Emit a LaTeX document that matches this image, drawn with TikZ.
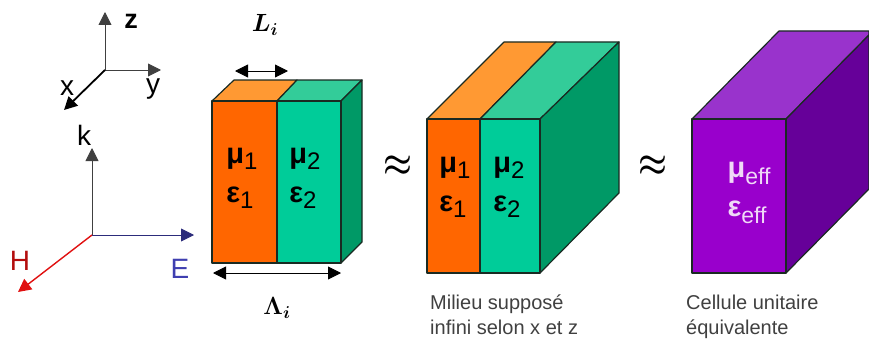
\documentclass[tikz,border=0pt]{standalone}
\usepackage{fontspec}
\setmainfont{Liberation Sans}
\usetikzlibrary{arrows.meta,positioning}
\definecolor{orangeface}{HTML}{FF6600}
\definecolor{orangetop}{HTML}{FF9933}
\definecolor{greenface}{HTML}{00CC99}
\definecolor{greentop}{HTML}{33CC99}
\definecolor{greenside}{HTML}{009966}
\definecolor{purpleface}{HTML}{9900CC}
\definecolor{purpletop}{HTML}{9933CC}
\definecolor{purpleside}{HTML}{660099}
\definecolor{outline}{HTML}{1A2A22}
\definecolor{efield}{HTML}{3F3FB0}
\definecolor{hfield}{HTML}{E01010}
\newcommand{\sbs}[1]{\raisebox{-0.4ex}{\fontsize{24}{24}\mdseries\selectfont #1}}
\newcommand{\sbf}[1]{\raisebox{-0.4ex}{\fontsize{23}{23}\mdseries\selectfont #1}}

\begin{document}
\begin{tikzpicture}[
          x=1pt, y=-1pt,
          face/.style={draw=outline, line width=1.2pt, line join=round},
          ax/.style={-{Triangle[length=13pt,width=13pt]}, draw=black!75, line width=0.9pt},
          dim/.style={{Triangle[length=13pt,width=13pt]}-{Triangle[length=13pt,width=13pt]}, draw=black, line width=0.9pt},
          axlab/.style={font=\fontsize{28}{28}\selectfont, inner sep=0pt},
          mat/.style={font=\fontsize{29}{39}\bfseries\selectfont, align=left, inner sep=0pt},
          size/.style={font=\fontsize{32}{32}\selectfont\boldmath, inner sep=0pt},
          apx/.style={font=\fontsize{25}{25}\selectfont\boldmath, inner sep=0pt, xscale=1.3, yscale=1.5},
          captxt/.style={font=\fontsize{20}{24.5}\selectfont, align=left, inner sep=0pt, text=black!75}
        ]
        \useasboundingbox (0,0) rectangle (869,345);
        % axes
        \coordinate (o1) at (105,70);
        \coordinate (z1) at (105,12);
        \coordinate (y1) at (161,70);
        \coordinate (x1) at (64,110);
        \draw[ax] (o1) -- (z1);
        \draw[ax] (o1) -- (y1);
        \draw[ax, draw=black, line width=1.8pt] (o1) -- (x1);
        \node[axlab, font=\fontsize{27}{27}\selectfont\bfseries] (zlab) at (131,21) {z};
        \node[axlab] (ylab) at (153,89) {y};
        \node[axlab] (xlab) at (67,88) {x};
        % fields
        \coordinate (o2) at (92,235);
        \coordinate (k2) at (92,148);
        \coordinate (e2) at (194,235);
        \coordinate (h2) at (18,292);
        \draw[ax] (o2) -- (k2);
        \draw[ax, draw=efield!70!black] (o2) -- (e2);
        \draw[ax, draw=hfield, line width=1.4pt] (o2) -- (h2);
        \node[axlab] (klab) at (84,135) {k};
        \node[axlab, text=hfield!80!black] (hlab) at (20,261) {H};
        \node[axlab, text=efield] (elab) at (180,269) {E};
        % first block
        \draw[face, fill=orangetop] (212,101) -- (234,80) -- (297,80) -- (277,101) -- cycle;
        \draw[face, fill=greentop] (277,101) -- (297,80) -- (362,80) -- (341,101) -- cycle;
        \draw[face, fill=greenside] (341,101) -- (362,80) -- (362,242) -- (341,263) -- cycle;
        \draw[face, fill=orangeface] (212,101) rectangle (277,263);
        \draw[face, fill=greenface] (277,101) rectangle (341,263);
        \node[mat] (m11) at (242,178.5) {μ\sbs{1}\\ε\sbs{1}};
        \node[mat] (m12) at (305,178.5) {μ\sbs{2}\\ε\sbs{2}};
        \coordinate (la) at (235,71);
        \coordinate (lb) at (288,71);
        \coordinate (wa) at (213,273);
        \coordinate (wb) at (341,273);
        \draw[dim] (la) -- (lb);
        \draw[dim] (wa) -- (wb);
        \node[size] (llab) at (265,25) {$L_{\scriptscriptstyle i}$};
        \node[size] (wlab) at (277,308) {$\mathbf{\Lambda}_{\scriptscriptstyle i}$};
        \node[apx] (ap1) at (398,166) {$\approx$};
        % second block
        \draw[face, fill=orangetop] (427,119) -- (504,42) -- (556,42) -- (480,119) -- cycle;
        \draw[face, fill=greentop] (480,119) -- (556,42) -- (619,42) -- (540,119) -- cycle;
        \draw[face, fill=greenside] (540,119) -- (619,42) -- (619,193) -- (540,273) -- cycle;
        \draw[face, fill=orangeface] (427,119) rectangle (480,273);
        \draw[face, fill=greenface] (480,119) rectangle (540,273);
        \node[mat] (m21) at (455,187.5) {μ\sbs{1}\\ε\sbs{1}};
        \node[mat] (m22) at (509,187.5) {μ\sbs{2}\\ε\sbs{2}};
        \node[captxt, anchor=north west] (cap1) at (430,295) {Milieu supposé\\infini selon x et z};
        \node[apx] (ap2) at (653,166) {$\approx$};
        % third block
        \draw[face, fill=purpletop] (692,119) -- (779,31) -- (869,31) -- (869,35) -- (786,119) -- cycle;
        \draw[face, fill=purpleside] (786,119) -- (869,35) -- (869,189) -- (786,273) -- cycle;
        \draw[face, fill=purpleface] (692,119) rectangle (786,273);
        \node[mat, text=purpleface!15!white] (m3) at (749,193) {μ\sbf{eff}\\ε\sbf{eff}};
        \node[captxt, anchor=north west] (cap2) at (686,295) {Cellule unitaire\\équivalente};
      \end{tikzpicture}
\end{document}
